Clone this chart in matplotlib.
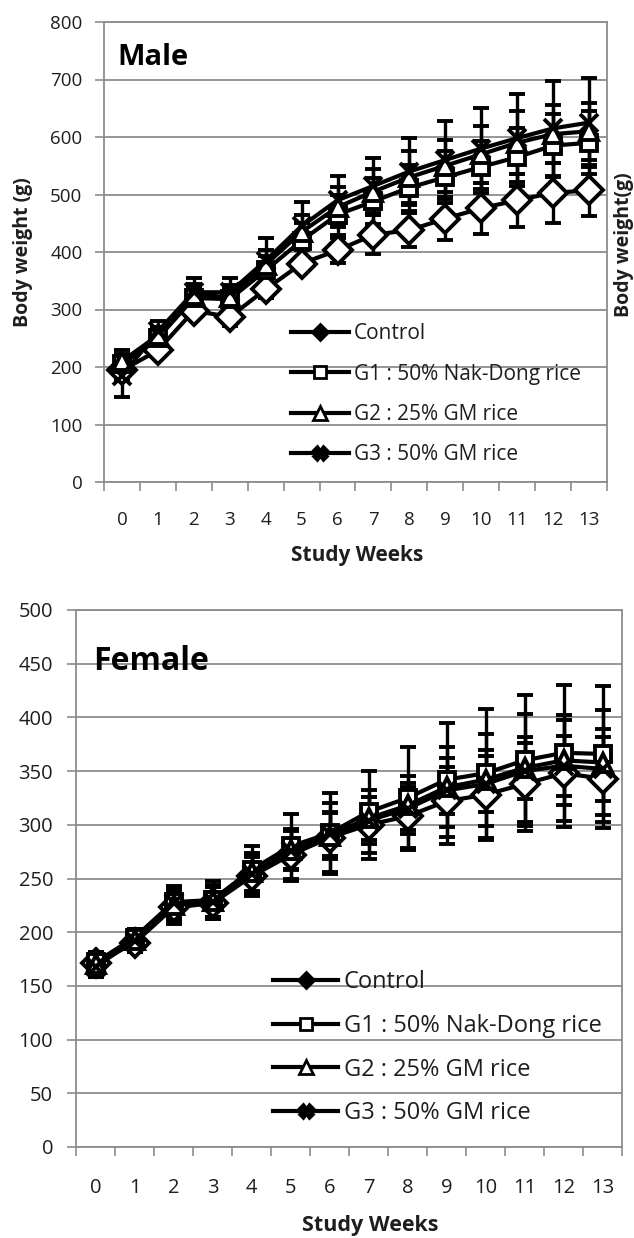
import numpy as np
import matplotlib
matplotlib.use("Agg")
import matplotlib.pyplot as plt
from matplotlib.lines import Line2D
from matplotlib.ticker import MultipleLocator

plt.rcParams['font.family'] = ['Open Sans', 'DejaVu Sans']

# ================== DATA ==================
weeks = np.arange(14)
week_labels = [str(w) for w in weeks]
groups = ["Control", "G1 : 50% Nak-Dong rice", "G2 : 25% GM rice", "G3 : 50% GM rice"]

# Male body weight (g), mean and SD
male_ctrl = [194, 229, 298, 287, 335, 380, 403, 430, 438, 458, 476, 490, 503, 507]
male_g1   = [205, 250, 320, 318, 368, 420, 465, 488, 512, 530, 548, 565, 585, 590]
male_g2   = [210, 255, 325, 322, 378, 435, 478, 505, 530, 550, 570, 590, 605, 610]
male_g3   = [185, 262, 330, 330, 385, 445, 490, 515, 540, 560, 580, 598, 615, 625]
male_ctrl_sd = [15, 12, 12, 15, 15, 12, 22, 34, 29, 37, 44, 46, 52, 45]
male_g1_sd   = [15, 15, 20, 20, 25, 30, 35, 40, 40, 45, 45, 50, 55, 55]
male_g2_sd   = [20, 15, 20, 20, 25, 30, 35, 40, 45, 45, 50, 55, 50, 50]
male_g3_sd   = [37, 18, 25, 25, 40, 42, 42, 48, 58, 67, 71, 77, 82, 78]

# Female body weight (g), mean and SD
fem_ctrl = [171, 190, 223, 227, 252, 272, 288, 300, 308, 322, 328, 338, 348, 343]
fem_g1   = [172, 195, 228, 230, 258, 280, 292, 312, 325, 342, 348, 360, 367, 366]
fem_g2   = [170, 193, 225, 229, 256, 277, 290, 306, 318, 335, 342, 353, 360, 358]
fem_g3   = [168, 192, 227, 228, 254, 276, 291, 304, 315, 332, 338, 350, 355, 352]
fem_ctrl_sd = [10, 8, 15, 15, 18, 24, 32, 32, 31, 40, 42, 44, 50, 46]
fem_g1_sd   = [10, 8, 15, 18, 22, 30, 38, 38, 47, 53, 60, 61, 63, 63]
fem_g2_sd   = [12, 10, 15, 15, 18, 18, 22, 20, 27, 37, 43, 50, 42, 49]
fem_g3_sd   = [10, 10, 12, 14, 18, 18, 20, 22, 20, 22, 26, 26, 28, 30]

GRID = '#8c8c8c'
TXT = '#1e1e1e'

styles = [
    dict(marker='D', ms=14, mfc='white'),
    dict(marker='s', ms=12, mfc='white'),
    dict(marker='^', ms=13, mfc='white'),
    dict(marker='x', ms=13, mfc='black'),
]
leg_styles = [
    dict(marker='D', ms=8, mfc='black'),
    dict(marker='s', ms=9, mfc='white'),
    dict(marker='^', ms=10, mfc='white'),
    dict(marker='X', ms=10, mfc='black'),
]


def draw_panel(ax, series, sds, ymax, ystep, fs, pad_x, pad_y, leg_anchor, leg_fs, leg_space, hlen):
    for vals, sd, st in zip(series, sds, styles):
        ax.errorbar(weeks, vals, yerr=sd, color='black', lw=3, elinewidth=2.4,
                    capsize=5.5, capthick=2.4, marker=st['marker'], ms=st['ms'],
                    mfc=st['mfc'], mec='black', mew=2.8, zorder=3)
    ax.set_xlim(-0.5, 13.5)
    ax.set_ylim(0, ymax)
    ax.yaxis.set_major_locator(MultipleLocator(ystep))
    ax.set_xticks(weeks)
    ax.set_xticklabels(week_labels)
    ax.set_xticks(np.arange(-0.5, 14, 1), minor=True)
    ax.tick_params(axis='x', which='major', length=0, pad=pad_x, labelsize=fs, labelcolor=TXT)
    ax.tick_params(axis='x', which='minor', length=6.5, width=1.2, color=GRID, direction='out')
    ax.tick_params(axis='y', length=6.5, width=1.2, color=GRID, pad=pad_y, labelsize=fs, labelcolor=TXT)
    ax.grid(axis='y', color=GRID, lw=1.3)
    ax.set_axisbelow(True)
    for s in ax.spines.values():
        s.set_color(GRID)
        s.set_linewidth(1.3)
    handles = [Line2D([], [], color='black', lw=3, marker=st['marker'], ms=st['ms'],
                      mfc=st['mfc'], mec='black', mew=2) for st in leg_styles]
    ax.legend(handles, groups, loc='upper left', bbox_to_anchor=leg_anchor, frameon=False,
              fontsize=leg_fs, labelspacing=leg_space, handlelength=hlen,
              handletextpad=0.25, borderpad=0, borderaxespad=0, labelcolor=TXT)


fig = plt.figure(figsize=(6.34, 12.38), dpi=100)

# ---- Male ----
ax1 = fig.add_axes([104/634, 1 - 482/1238, 503/634, 460/1238])
draw_panel(ax1, [male_ctrl, male_g1, male_g2, male_g3],
           [male_ctrl_sd, male_g1_sd, male_g2_sd, male_g3_sd],
           800, 100, 13.5, 21, 9, (0.371, 0.345), 15, 0.93, 2.8)
ax1.text(0.027, 0.9065, "Male", transform=ax1.transAxes, fontsize=21, fontweight='bold',
         va='baseline', ha='left', color='black')
fig.text(23/634, 1 - 252/1238, "Body weight (g)", rotation=90, ha='center', va='center',
         fontsize=14, fontweight='bold', color=TXT)
fig.text(624/634, 1 - 245/1238, "Body weight(g)", rotation=90, ha='center', va='center',
         fontsize=14, fontweight='bold', color=TXT)
fig.text(357/634, 1 - 556/1238, "Study Weeks", ha='center', va='center',
         fontsize=15, fontweight='bold', color=TXT)

# ---- Female ----
ax2 = fig.add_axes([76/634, 1 - 1147/1238, 546/634, 537/1238])
draw_panel(ax2, [fem_ctrl, fem_g1, fem_g2, fem_g3],
           [fem_ctrl_sd, fem_g1_sd, fem_g2_sd, fem_g3_sd],
           500, 50, 14.5, 22, 10, (0.361, 0.329), 17, 0.83, 2.75)
ax2.text(0.031, 0.888, "Female", transform=ax2.transAxes, fontsize=23, fontweight='bold',
         va='baseline', ha='left', color='black')
fig.text(370/634, 1 - 1225/1238, "Study Weeks", ha='center', va='center',
         fontsize=15.5, fontweight='bold', color=TXT)

fig.savefig("out.png", dpi=100)
